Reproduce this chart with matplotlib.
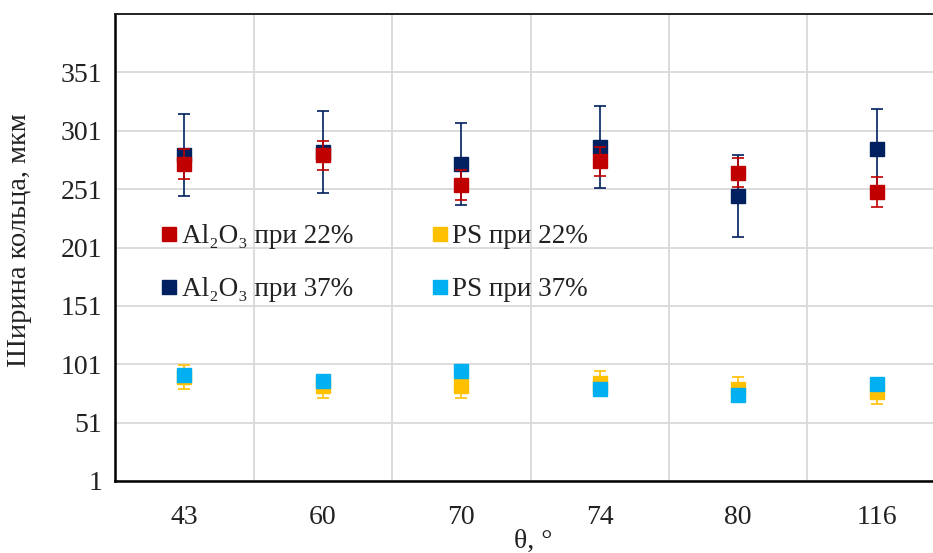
import matplotlib
matplotlib.use("Agg")
import matplotlib.pyplot as plt
from matplotlib.lines import Line2D
import numpy as np

plt.rcParams['font.family'] = ['Liberation Serif', 'DejaVu Serif']

angles = ["43", "60", "70", "74", "80", "116"]

al22 = [272.5, 280, 254.5, 275, 265, 248.5]
al22_err = [12.5, 12.5, 12.5, 12.5, 12.5, 12.5]
al37 = [280, 282.5, 272.5, 287, 245, 285]
al37_err = [35, 35, 35, 35, 35, 35]
ps22 = [90, 82, 82, 85, 80, 77]
ps22_err = [10, 10, 10, 10, 10, 10]
ps37 = [92, 87, 95, 79.5, 74.5, 84.5]

labels = ["Al₂O₃ при 22%", "Al₂O₃ при 37%", "PS при 22%", "PS при 37%"]
yticks = np.arange(1, 352, 50)

c_al22 = "#C00000"
c_al37 = "#002060"
c_ps22 = "#FFC000"
c_ps37 = "#00B0F0"
txt = "#222222"

fig = plt.figure(figsize=(9.33, 5.53), dpi=100)
ax = fig.add_axes([115/933, 1-481/553, 831/933, 467/553])

x = np.arange(len(angles))
ms = 10
kw = dict(fmt="s", ms=ms, capsize=4.5, elinewidth=1.2, capthick=1.2)

ax.errorbar(x, al37, yerr=al37_err, color=c_al37, zorder=3, **kw)
ax.errorbar(x, al22, yerr=al22_err, color=c_al22, zorder=4, **kw)
ax.errorbar(x, ps22, yerr=ps22_err, color=c_ps22, zorder=3, **kw)
ax.plot(x, ps37, "s", ms=ms, color=c_ps37, zorder=4)

ax.set_xlim(-0.5, len(angles) - 0.5)
ax.set_ylim(1, 401)
ax.set_yticks(yticks)
ax.set_xticks(x)
ax.set_xticklabels(angles)
ax.set_xticks(np.arange(0.5, len(angles) - 0.5), minor=True)

ax.grid(False)
ax.yaxis.grid(True, color="#d9d9d9", lw=1.3, zorder=0)
ax.xaxis.grid(True, which="minor", color="#d9d9d9", lw=1.3, zorder=0)
ax.set_axisbelow(True)

ax.tick_params(axis="both", which="both", length=0, labelsize=20, colors=txt)
ax.tick_params(axis="x", pad=17)
ax.tick_params(axis="y", pad=9)

for s in ["left", "bottom"]:
    ax.spines[s].set_linewidth(1.8)
    ax.spines[s].set_color("black")
ax.spines["top"].set_linewidth(1.4)
ax.spines["top"].set_color(txt)
ax.spines["right"].set_visible(False)

ax.set_ylabel("Ширина кольца, мкм", fontsize=20.5, color=txt)
ax.yaxis.set_label_coords((32-115)/831, (481-240)/467)
ax.set_xlabel("θ, °", fontsize=20, color=txt)
ax.xaxis.set_label_coords((533-115)/831, (481-529)/467)

handles = [Line2D([], [], ls="none", marker="s", ms=ms, color=c)
           for c in (c_al22, c_al37, c_ps22, c_ps37)]
leg = ax.legend(handles, labels, ncol=2, frameon=False, loc="upper left",
                bbox_to_anchor=((162-115)/831, (481-224)/467),
                fontsize=19.5, handlelength=0.5, handletextpad=0.22,
                columnspacing=2.95, labelspacing=1.05,
                borderpad=0, borderaxespad=0)
for t in leg.get_texts():
    t.set_color(txt)

fig.savefig("out.png", dpi=100)
